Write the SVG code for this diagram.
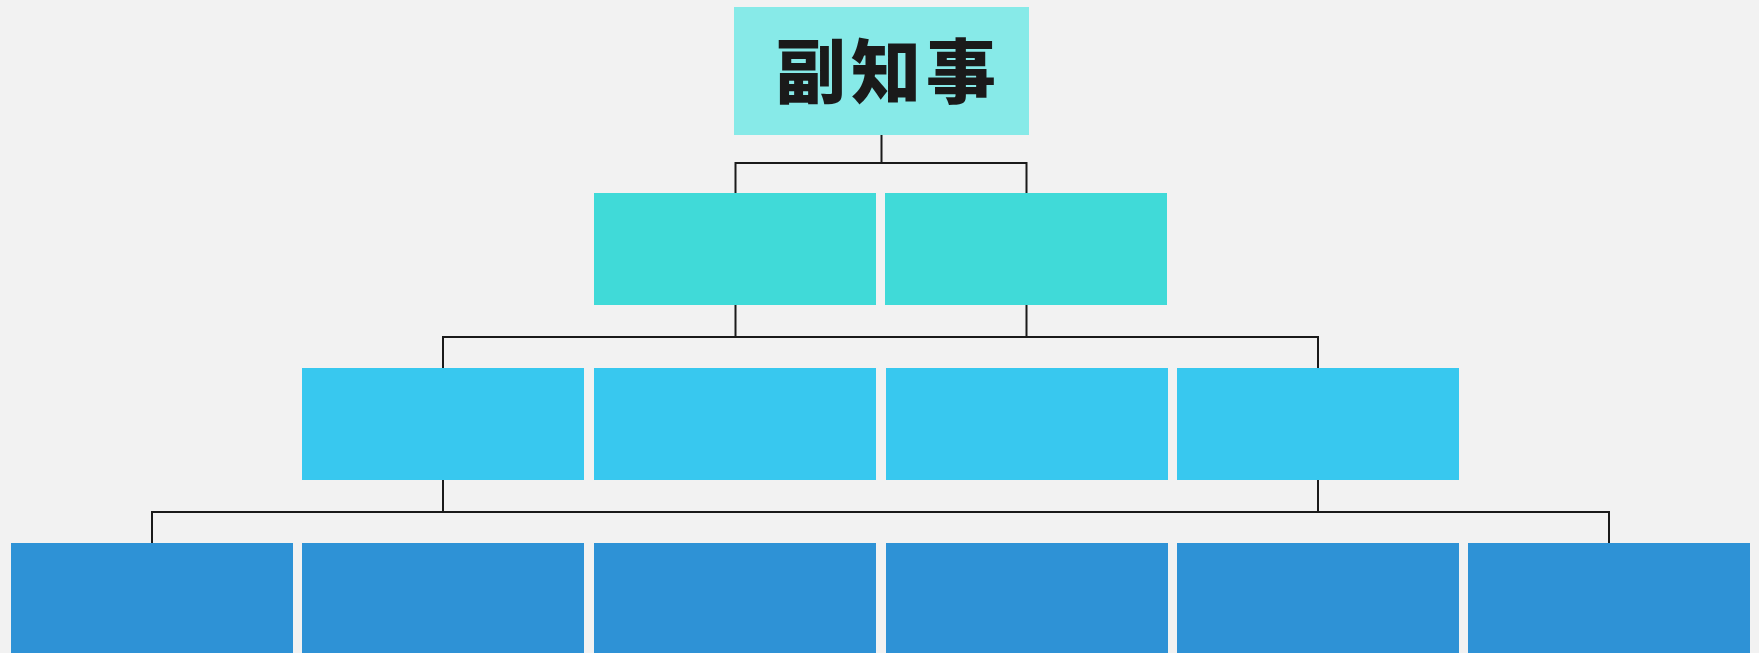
<svg xmlns="http://www.w3.org/2000/svg" width="1759" height="653" viewBox="0 0 1759 653">
  <style>
    .bg { fill: #f2f2f2; }
    .l0 { fill: #87eae8; }
    .l1 { fill: #40dad8; }
    .l2 { fill: #38c8ef; }
    .l3 { fill: #2e92d6; }
    .conn { fill: none; stroke: #1a1a1a; stroke-width: 2; }
    .title { font-family: "Noto Sans CJK JP", "Noto Sans CJK SC", sans-serif; font-weight: 900; font-size: 70px; fill: #1a1a1a; letter-spacing: 5px; }
  </style>
  <rect class="bg" x="0" y="0" width="1759" height="653"/>

  <g id="connectors">
    <path class="conn" d="M881.5 135 V163 M735.5 163 H1026.5 M735.5 162 V193 M1026.5 162 V193"/>
    <path class="conn" d="M735.5 305 V337 M1026.5 305 V337 M443 337 H1318 M443 336 V368 M1318 336 V368"/>
    <path class="conn" d="M443 480 V512 M1318 480 V512 M152 512 H1609 M152 511 V543 M1609 511 V543"/>
  </g>

  <g id="node-top">
    <rect class="l0" x="734" y="7" width="295" height="128"/>
    <text class="title" x="776" y="98">副知事</text>
  </g>

  <g id="node-1a"><rect class="l1" x="594" y="193" width="282" height="112"/></g>
  <g id="node-1b"><rect class="l1" x="885" y="193" width="282" height="112"/></g>

  <g id="node-2a"><rect class="l2" x="302" y="368" width="282" height="112"/></g>
  <g id="node-2b"><rect class="l2" x="594" y="368" width="282" height="112"/></g>
  <g id="node-2c"><rect class="l2" x="886" y="368" width="282" height="112"/></g>
  <g id="node-2d"><rect class="l2" x="1177" y="368" width="282" height="112"/></g>

  <g id="node-3a"><rect class="l3" x="11" y="543" width="282" height="112"/></g>
  <g id="node-3b"><rect class="l3" x="302" y="543" width="282" height="112"/></g>
  <g id="node-3c"><rect class="l3" x="594" y="543" width="282" height="112"/></g>
  <g id="node-3d"><rect class="l3" x="886" y="543" width="282" height="112"/></g>
  <g id="node-3e"><rect class="l3" x="1177" y="543" width="282" height="112"/></g>
  <g id="node-3f"><rect class="l3" x="1468" y="543" width="282" height="112"/></g>
</svg>
